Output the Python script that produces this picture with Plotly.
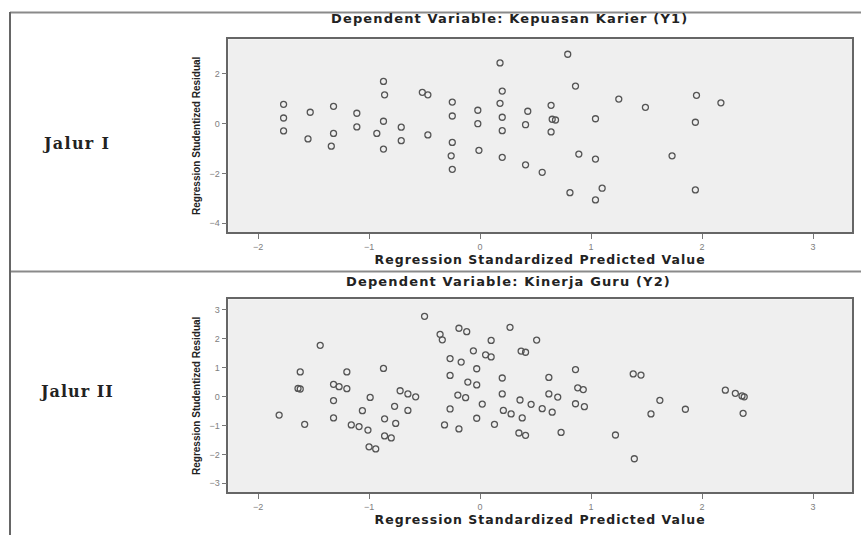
import plotly.graph_objects as go

# ---------------- data ----------------
x_ticks = [-2, -1, 0, 1, 2, 3]
y1_ticks = [-4, -2, 0, 2]
y2_ticks = [-3, -2, -1, 0, 1, 2, 3]

row_labels = ["Jalur I", "Jalur II"]
titles = ["Dependent Variable: Kepuasan Karier (Y1)", "Dependent Variable: Kinerja Guru (Y2)"]
x_title = "Regression Standardized Predicted Value"
y_title = "Regression Studentized Residual"

# Jalur I : predicted value vs studentized residual
x1 = [-1.77, -1.77, -1.77, -1.53, -1.55, -1.32, -1.32, -1.34, -1.11, -1.11,
      -0.93, -0.87, -0.86, -0.87, -0.87, -0.71, -0.71, -0.52, -0.47, -0.47,
      -0.25, -0.25, -0.25, -0.26, -0.25, -0.02, -0.02, -0.01, 0.18, 0.20,
      0.18, 0.20, 0.20, 0.20, 0.43, 0.41, 0.64, 0.65, 0.68, 0.64,
      0.41, 0.56, 0.79, 0.86, 0.89, 1.04, 1.04, 1.25, 1.49, 1.73,
      1.95, 1.94, 1.94, 2.17, 0.81, 1.10, 1.04]
y1 = [0.78, 0.23, -0.29, 0.46, -0.61, 0.70, -0.39, -0.90, 0.42, -0.13,
      -0.39, 1.70, 1.16, 0.10, -1.02, -0.14, -0.68, 1.26, 1.16, -0.45,
      0.87, 0.31, -0.75, -1.29, -1.83, 0.54, 0.00, -1.07, 2.44, 1.31,
      0.82, 0.26, -0.28, -1.35, 0.50, -0.04, 0.74, 0.18, 0.15, -0.33,
      -1.65, -1.95, 2.79, 1.51, -1.22, -1.42, 0.20, 0.99, 0.66, -1.29,
      1.14, 0.06, -2.66, 0.84, -2.77, -2.59, -3.06]

# Jalur II
x2 = [-0.50, -1.44, -0.36, -0.34, -0.19, -0.12, 0.27, 0.10, -0.06, 0.05,
      0.10, 0.37, 0.41, -0.27, -0.17, -0.03, -1.62, -1.20, -0.87, -0.27,
      0.20, -1.64, -1.62, -1.32, -1.27, -1.20, -0.11, -0.03, -0.72, -0.65,
      -0.58, -0.99, -1.32, -0.20, -0.13, 0.20, 0.36, 0.02, -0.77, -0.65,
      -1.06, -0.27, 0.21, 0.28, 0.38, -1.81, -1.58, -1.32, -0.03, 0.13,
      -1.16, -1.09, -1.01, -0.86, -0.76, -0.32, -0.19, -0.86, -0.80, -1.00,
      -0.94, 0.35, 0.41,
      0.51, 0.86, 0.62, 0.62, 0.70, 0.88, 0.93, 0.46, 0.56, 0.65,
      0.86, 0.94, 0.73, 1.38, 1.45, 1.62, 1.54, 1.85, 1.22, 1.39,
      2.21, 2.30, 2.36, 2.38, 2.37]
y2 = [2.77, 1.77, 2.15, 1.96, 2.36, 2.24, 2.39, 1.94, 1.58, 1.44,
      1.37, 1.57, 1.53, 1.31, 1.19, 0.96, 0.85, 0.85, 0.97, 0.73,
      0.64, 0.28, 0.26, 0.42, 0.34, 0.27, 0.50, 0.40, 0.20, 0.09,
      -0.01, -0.03, -0.14, 0.05, -0.04, 0.09, -0.12, -0.26, -0.34, -0.48,
      -0.49, -0.43, -0.48, -0.60, -0.74, -0.64, -0.96, -0.74, -0.75, -0.96,
      -0.98, -1.04, -1.16, -0.77, -0.93, -0.98, -1.12, -1.36, -1.43, -1.74,
      -1.81, -1.26, -1.34,
      1.95, 0.93, 0.66, 0.09, -0.02, 0.30, 0.24, -0.27, -0.42, -0.54,
      -0.25, -0.35, -1.24, 0.78, 0.74, -0.13, -0.60, -0.44, -1.33, -2.15,
      0.22, 0.11, 0.02, -0.01, -0.58]

# ---------------- layout helpers ----------------
W, H = 861, 535
def px(x):
    return x / W
def py(y):
    return 1 - y / H

def spaced(txt, ls):
    return '<span style="letter-spacing:%spx">%s</span>' % (ls, txt)

marker = dict(symbol="circle-open", size=6, color="#555555", line=dict(width=1.3))

fig = go.Figure()
fig.add_trace(go.Scatter(x=x1, y=y1, mode="markers", marker=marker,
                         xaxis="x", yaxis="y", showlegend=False))
fig.add_trace(go.Scatter(x=x2, y=y2, mode="markers", marker=marker,
                         xaxis="x2", yaxis="y2", showlegend=False))

tickfont = dict(family="Liberation Sans, Arial, sans-serif", size=9, color="#808080")
xtitle_font = dict(family="DejaVu Sans, sans-serif", size=12.5, color="#222")
ytitle_font = dict(family="Liberation Sans Narrow, Liberation Sans, Arial, sans-serif", size=10, color="#222")

def xaxis(dom_anchor):
    return dict(domain=[px(228.3), px(852)], range=[-2.268, 3.351], anchor=dom_anchor,
                tickvals=x_ticks, ticks="outside", ticklen=5, tickcolor="#777",
                tickfont=tickfont, showgrid=False, zeroline=False,
                showline=True, mirror=True, linecolor="#666", linewidth=1.5,
                title=dict(text="<b>" + spaced(x_title, 1) + "</b>", font=xtitle_font, standoff=4))

def yaxis(dom, rng, tv, anchor):
    return dict(domain=dom, range=rng, anchor=anchor,
                tickvals=tv, ticks="outside", ticklen=5, tickcolor="#777",
                tickfont=tickfont, showgrid=False, zeroline=False,
                showline=True, mirror=True, linecolor="#666", linewidth=1.5,
                title=dict(text="<b>" + y_title + "</b>", font=ytitle_font, standoff=7))

title_font = dict(family="DejaVu Sans, sans-serif", size=13, color="#222")
label_font = dict(family="DejaVu Serif, serif", size=16, color="#222")
annotations = [
    dict(x=px(509), y=py(19), xref="paper", yref="paper", text="<b>" + spaced(titles[0], 1.15) + "</b>",
         showarrow=False, font=title_font, xanchor="center", yanchor="middle"),
    dict(x=px(508), y=py(281), xref="paper", yref="paper", text="<b>" + spaced(titles[1], 1.15) + "</b>",
         showarrow=False, font=title_font, xanchor="center", yanchor="middle"),
    dict(x=px(76), y=py(143), xref="paper", yref="paper", text="<b>" + spaced(row_labels[0], 1.3) + "</b>",
         showarrow=False, font=label_font, xanchor="center", yanchor="middle"),
    dict(x=px(76), y=py(391), xref="paper", yref="paper", text="<b>" + spaced(row_labels[1], 1.0) + "</b>",
         showarrow=False, font=label_font, xanchor="center", yanchor="middle"),
]

shapes = [
    dict(type="line", xref="paper", yref="paper", x0=px(10), x1=1, y0=py(12.5), y1=py(12.5),
         line=dict(color="#8a8a8a", width=2)),
    dict(type="line", xref="paper", yref="paper", x0=px(10), x1=1, y0=py(271.5), y1=py(271.5),
         line=dict(color="#8a8a8a", width=2)),
    dict(type="line", xref="paper", yref="paper", x0=px(10), x1=px(10), y0=py(12), y1=0,
         line=dict(color="#666", width=2)),
]

fig.update_layout(
    width=W, height=H,
    margin=dict(l=0, r=0, t=0, b=0),
    paper_bgcolor="white", plot_bgcolor="#efefef",
    xaxis=xaxis("y"),
    yaxis=yaxis([py(232.3), py(39.3)], [-4.36, 3.39], y1_ticks, "x"),
    xaxis2=xaxis("y2"),
    yaxis2=yaxis([py(492.3), py(299.3)], [-3.31, 3.36], y2_ticks, "x2"),
    annotations=annotations,
    shapes=shapes,
    showlegend=False,
)

fig.write_html("out.html", config={"displayModeBar": False},
               post_script="document.body.style.margin='0';document.body.style.overflow='hidden';")
